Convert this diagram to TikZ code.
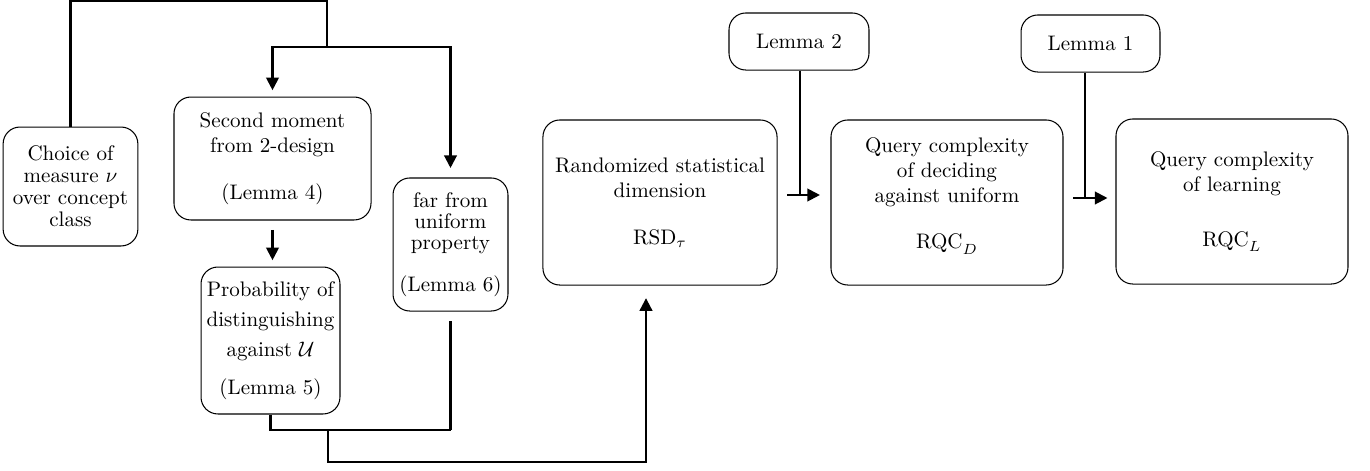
\documentclass[tikz,border=0pt]{standalone}
\usepackage{amsmath,amssymb}
\usetikzlibrary{arrows.meta,positioning,calc}

\begin{document}
\begin{tikzpicture}[
  x=0.475pt, y=-0.475pt,
  box/.style={rectangle, rounded corners=8pt, draw, line width=0.5pt, align=center, inner sep=2pt},
  link/.style={line width=1pt},
  arrow/.style={-{Triangle[length=6pt,width=6pt]}, line width=1pt}
]
\useasboundingbox (0,0) rectangle (1370,470);

% left column
\node[box, minimum width=64pt, minimum height=56.5pt] (choice) at (70.5,186.5)
  {Choice of\\[-1.5pt] measure $\nu$\\[-1.5pt] over concept\\[-1.5pt] class};
\node[box, minimum width=93.6pt, minimum height=58.4pt] (second) at (272.5,158.5)
  {Second moment\\ from 2-design\\[10pt] (Lemma 4)};
\node[box, minimum width=66pt, minimum height=69.8pt] (prob) at (270.5,340.5)
  {Probability of\\[2.2pt] distinguishing\\[2.2pt] against $\mathcal{U}$\\[6pt] (Lemma 5)};
\node[box, minimum width=54.6pt, minimum height=63.2pt] (far) at (450.5,244.5)
  {far from\\[-2pt] uniform\\[-2pt] property\\[8pt] (Lemma 6)};

% right row
\node[box, minimum width=111.2pt, minimum height=78.4pt] (rsd) at (660,202.5)
  {Randomized statistical\\ dimension\\[10pt] $\mathrm{RSD}_\tau$};
\node[box, minimum width=110.2pt, minimum height=78.4pt] (rqcd) at (947,202.5)
  {Query complexity\\ of deciding\\ against uniform\\[10pt] $\mathrm{RQC}_D$\\[-3pt]\mbox{}};
\node[box, minimum width=110.2pt, minimum height=78.4pt] (rqcl) at (1232,201.5)
  {Query complexity\\ of learning\\[14pt] $\mathrm{RQC}_L$};
\node[box, minimum width=66.5pt, minimum height=27.1pt] (lem2) at (799,41.5) {Lemma 2};
\node[box, minimum width=66pt, minimum height=27.1pt] (lem1) at (1090.5,43.5) {Lemma 1};

% split from the choice of measure
\coordinate (topbend) at (327,1);
\coordinate (split) at (327,47);
\draw[link] (choice.north) |- (topbend) -- (split);
\draw[arrow, shorten >=3pt] (split) -| (second.north);
\draw[arrow, shorten >=4.5pt] (split) -| (far.north);
\draw[arrow, shorten <=4.5pt, shorten >=3pt] (second.south) -- (second.south |- prob.north);

% merge into RSD
\coordinate (merge) at (450.5,430);
\coordinate (tap) at (328,430);
\coordinate (bottom) at (328,462);
\draw[link] (prob.south) |- (merge);
\draw[link, shorten <=4.5pt] (far.south) -- (merge);
\draw[arrow, shorten >=6pt] (tap) -- (bottom) -| ([xshift=-6.65pt]rsd.south);

% lemmas feeding the horizontal arrows
\coordinate (in2) at (800,195);
\coordinate (in1) at (1085,198);
\draw[link] (lem2.south -| in2) -- (in2);
\draw[arrow, shorten <=4.5pt, shorten >=5pt] (rsd.east |- in2) -- (rqcd.west |- in2);
\draw[link] (lem1.south -| in1) -- (in1);
\draw[arrow, shorten <=4.7pt, shorten >=3.8pt] (rqcd.east |- in1) -- (rqcl.west |- in1);

\end{tikzpicture}
\end{document}
